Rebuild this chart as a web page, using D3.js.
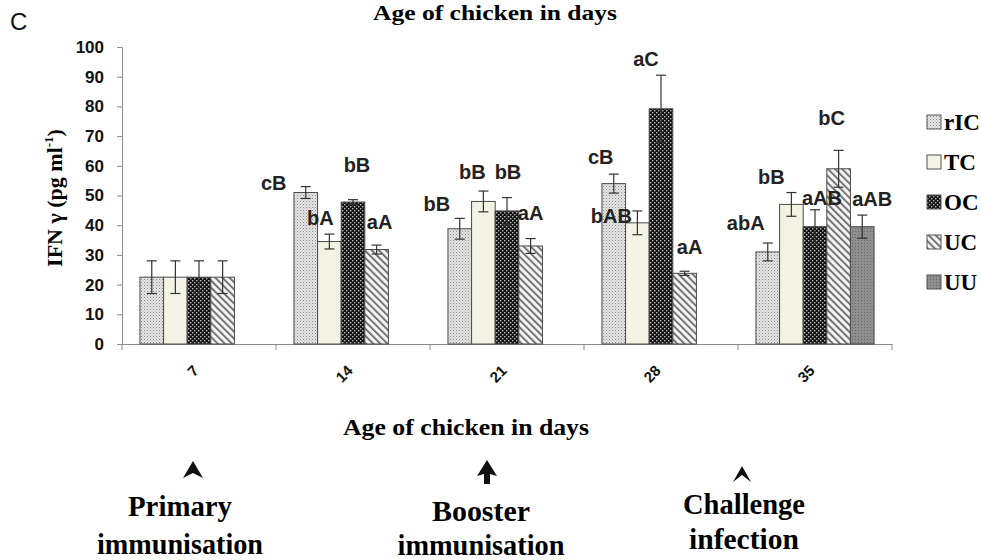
<!DOCTYPE html>
<html>
<head>
<meta charset="utf-8">
<script src="https://cdn.jsdelivr.net/npm/d3@7"></script>
<style>
  body { margin: 0; background: #fff; }
  svg { display: block; }
</style>
</head>
<body>
<div id="chart"></div>
<script>
// data (IFN gamma, pg/ml)
const days = ["7", "14", "21", "28", "35"];
const groups = ["rIC", "TC", "OC", "UC", "UU"];

const rIC_mean = [22.5, 51.0, 38.8, 54.0, 31.0];
const TC_mean  = [22.5, 34.5, 48.0, 40.8, 47.0];
const OC_mean  = [22.5, 47.8, 44.8, 79.2, 39.5];
const UC_mean  = [22.5, 31.8, 33.0, 23.8, 59.0];
const UU_mean  = [null, null, null, null, 39.5];

const rIC_err = [5.5, 2.0, 3.5, 3.2, 3.0];
const TC_err  = [5.5, 2.5, 3.5, 4.0, 4.0];
const OC_err  = [5.5, 0.8, 4.5, 11.3, 5.7];
const UC_err  = [5.5, 1.5, 2.5, 0.7, 6.2];
const UU_err  = [null, null, null, null, 3.9];

// significance letters
const rIC_sig = ["", "cB", "bB", "cB", "abA"];
const TC_sig  = ["", "bA", "bB", "bAB", "bB"];
const OC_sig  = ["", "bB", "bB", "aC", "aAB"];
const UC_sig  = ["", "aA", "aA", "aA", "bC"];
const UU_sig  = ["", "", "", "", "aAB"];

const means = [rIC_mean, TC_mean, OC_mean, UC_mean, UU_mean];
const errs = [rIC_err, TC_err, OC_err, UC_err, UU_err];
const sigs = [rIC_sig, TC_sig, OC_sig, UC_sig, UU_sig];

// label nudges [dx, dy] from bar centre / error-bar top (layout only)
const nudge = [
  [null, [-32, 3], [-23, -7], [-13, -10], [-22, -13]],
  [null, [-9, -9], [-11, -12], [-26, 12], [-20, -9]],
  [null, [4, -28], [1, -19], [-15, -9], [7, -5]],
  [null, [3, -16], [0, -19], [5, -17], [-7, -25]],
  [null, null, null, null, [10, -9]]
];

const W = 981, H = 560;
const svg = d3.select("#chart").append("svg")
  .attr("width", W).attr("height", H);

// patterns
const defs = svg.append("defs");
const p1 = defs.append("pattern").attr("id", "pat-ric")
  .attr("patternUnits", "userSpaceOnUse").attr("width", 3).attr("height", 3);
p1.append("rect").attr("width", 3).attr("height", 3).attr("fill", "#e4e4e4");
p1.append("rect").attr("width", 1).attr("height", 1).attr("fill", "#8a8a8a");
p1.append("rect").attr("x", 1.5).attr("y", 1.5).attr("width", 1).attr("height", 1).attr("fill", "#b0b0b0");

const p3 = defs.append("pattern").attr("id", "pat-oc")
  .attr("patternUnits", "userSpaceOnUse").attr("width", 4).attr("height", 4);
p3.append("rect").attr("width", 4).attr("height", 4).attr("fill", "#111");
p3.append("rect").attr("x", 0).attr("y", 0).attr("width", 1.4).attr("height", 1.4).attr("fill", "#bbb");
p3.append("rect").attr("x", 2).attr("y", 2).attr("width", 1.4).attr("height", 1.4).attr("fill", "#bbb");

const p4 = defs.append("pattern").attr("id", "pat-uc")
  .attr("patternUnits", "userSpaceOnUse").attr("width", 5).attr("height", 5)
  .attr("patternTransform", "rotate(-45)");
p4.append("rect").attr("width", 5).attr("height", 5).attr("fill", "#f4f4f4");
p4.append("rect").attr("width", 1.8).attr("height", 5).attr("fill", "#6a6a6a");

const p5 = defs.append("pattern").attr("id", "pat-uu")
  .attr("patternUnits", "userSpaceOnUse").attr("width", 3).attr("height", 3);
p5.append("rect").attr("width", 3).attr("height", 3).attr("fill", "#8e8e8e");
p5.append("rect").attr("width", 1).attr("height", 1).attr("fill", "#666");

const fills = ["url(#pat-ric)", "#f3f3e4", "url(#pat-oc)", "url(#pat-uc)", "url(#pat-uu)"];

// scales
const x = d3.scaleBand().domain(days).range([122, 892]).padding(0);
const xs = d3.scaleBand().domain(groups).range([0, x.bandwidth()]).paddingInner(0).paddingOuter(0.76);
const y = d3.scaleLinear().domain([0, 100]).range([344, 47]);

const sans = "Liberation Sans, Arial, sans-serif";
const serif = "Liberation Serif, Times New Roman, serif";

// y axis
const yAxis = svg.append("g")
  .attr("transform", "translate(122,0)")
  .call(d3.axisLeft(y).ticks(10).tickSize(5).tickPadding(13));
yAxis.select(".domain").attr("stroke", "#8c8c8c");
yAxis.selectAll(".tick line").attr("stroke", "#8c8c8c");
yAxis.selectAll("text")
  .attr("font-family", sans)
  .attr("font-weight", "bold").attr("font-size", 17).attr("fill", "#111");

// x axis
const xAxis = svg.append("g")
  .attr("transform", "translate(0,344)")
  .call(d3.axisBottom(x).tickSize(0).tickPadding(0));
xAxis.select(".domain").attr("stroke", "#8c8c8c");
xAxis.selectAll("text")
  .attr("font-family", sans)
  .attr("font-weight", "bold").attr("font-size", 15).attr("fill", "#111")
  .attr("text-anchor", "end")
  .attr("transform", "translate(-3,24) rotate(-45)")
  .attr("dy", "0.35em");
// boundary ticks
svg.append("g").selectAll("line")
  .data(days.concat(["end"]))
  .join("line")
  .attr("x1", (d, i) => 122 + i * x.step())
  .attr("x2", (d, i) => 122 + i * x.step())
  .attr("y1", 344).attr("y2", 350)
  .attr("stroke", "#8c8c8c");

// bars
const rows = [];
groups.forEach((g, s) => {
  days.forEach((d, c) => {
    if (means[s][c] == null) return;
    rows.push({ g, s, d, c, v: means[s][c], e: errs[s][c], sig: sigs[s][c], nd: nudge[s][c] });
  });
});

svg.append("g").selectAll("rect")
  .data(rows)
  .join("rect")
  .attr("x", d => x(d.d) + xs(d.g))
  .attr("y", d => y(d.v))
  .attr("width", xs.bandwidth())
  .attr("height", d => y(0) - y(d.v))
  .attr("fill", d => fills[d.s])
  .attr("stroke", "#4a4a4a")
  .attr("stroke-width", 1);

// error bars
const eb = svg.append("g").attr("stroke", "#333").attr("stroke-width", 1.2);
rows.forEach(d => {
  const cx = x(d.d) + xs(d.g) + xs.bandwidth() / 2;
  eb.append("line").attr("x1", cx).attr("x2", cx).attr("y1", y(d.v + d.e)).attr("y2", y(d.v - d.e));
  eb.append("line").attr("x1", cx - 5).attr("x2", cx + 5).attr("y1", y(d.v + d.e)).attr("y2", y(d.v + d.e));
  eb.append("line").attr("x1", cx - 5).attr("x2", cx + 5).attr("y1", y(d.v - d.e)).attr("y2", y(d.v - d.e));
});

// significance letters
svg.append("g").selectAll("text")
  .data(rows.filter(d => d.sig))
  .join("text")
  .attr("x", d => x(d.d) + xs(d.g) + xs.bandwidth() / 2 + d.nd[0])
  .attr("y", d => y(d.v + d.e) + d.nd[1])
  .attr("text-anchor", "middle")
  .attr("font-family", sans)
  .attr("font-weight", "bold").attr("font-size", 20).attr("fill", "#222")
  .text(d => d.sig);

// titles
svg.append("text").attr("x", 10).attr("y", 30)
  .attr("font-family", sans).attr("font-size", 24)
  .attr("fill", "#111").text("C");

svg.append("text").attr("x", 495).attr("y", 20).attr("text-anchor", "middle")
  .attr("font-family", serif).attr("font-weight", "bold").attr("font-size", 21)
  .attr("textLength", 244).attr("lengthAdjust", "spacingAndGlyphs")
  .text("Age of chicken in days");

svg.append("text").attr("x", 466).attr("y", 435).attr("text-anchor", "middle")
  .attr("font-family", serif).attr("font-weight", "bold").attr("font-size", 23)
  .attr("textLength", 246).attr("lengthAdjust", "spacingAndGlyphs")
  .text("Age of chicken in days");

const yt = svg.append("text")
  .attr("transform", "translate(62,198) rotate(-90)")
  .attr("text-anchor", "middle")
  .attr("font-family", serif).attr("font-weight", "bold").attr("font-size", 22);
yt.append("tspan").text("IFN \u03b3 (pg ml");
yt.append("tspan").attr("font-size", 13).attr("dy", -9).text("-1");
yt.append("tspan").attr("dy", 9).text(")");

// legend
const lg = svg.append("g").selectAll("g")
  .data(groups)
  .join("g")
  .attr("transform", (d, i) => `translate(927,${122 + i * 40})`);
lg.append("rect").attr("y", -7).attr("width", 14).attr("height", 14)
  .attr("fill", (d, i) => fills[i]).attr("stroke", "#555");
lg.append("text").attr("x", 17).attr("y", 8)
  .attr("font-family", serif).attr("font-weight", "bold").attr("font-size", 23)
  .text(d => d);

// event markers
const events = [
  { x: 193, tx: 180, top: 461, lines: ["Primary", "immunisation"], ys: [516, 554], lens: [104, 166], kind: "solid" },
  { x: 487, tx: 481, top: 460, lines: ["Booster", "immunisation"], ys: [521, 555], lens: [98, 167], kind: "stem" },
  { x: 742, tx: 744, top: 466, lines: ["Challenge", "infection"], ys: [514, 549], lens: [122, 110], kind: "thin" }
];
events.forEach(ev => {
  let p;
  if (ev.kind === "solid") {
    p = `M${ev.x},${ev.top} L${ev.x + 10},${ev.top + 17} L${ev.x},${ev.top + 12} L${ev.x - 10},${ev.top + 17} Z`;
  } else if (ev.kind === "stem") {
    p = `M${ev.x},${ev.top} L${ev.x + 10},${ev.top + 16} L${ev.x + 3},${ev.top + 14} L${ev.x + 3},${ev.top + 24} L${ev.x - 3},${ev.top + 24} L${ev.x - 3},${ev.top + 14} L${ev.x - 10},${ev.top + 16} Z`;
  } else {
    p = `M${ev.x},${ev.top} L${ev.x + 9},${ev.top + 16} L${ev.x},${ev.top + 9} L${ev.x - 9},${ev.top + 16} Z`;
  }
  svg.append("path").attr("d", p).attr("fill", "#111");
  ev.lines.forEach((t, i) => {
    svg.append("text").attr("x", ev.tx).attr("y", ev.ys[i]).attr("text-anchor", "middle")
      .attr("font-family", serif).attr("font-weight", "bold").attr("font-size", 30)
      .attr("textLength", ev.lens[i]).attr("lengthAdjust", "spacingAndGlyphs")
      .text(t);
  });
});
</script>
</body>
</html>
